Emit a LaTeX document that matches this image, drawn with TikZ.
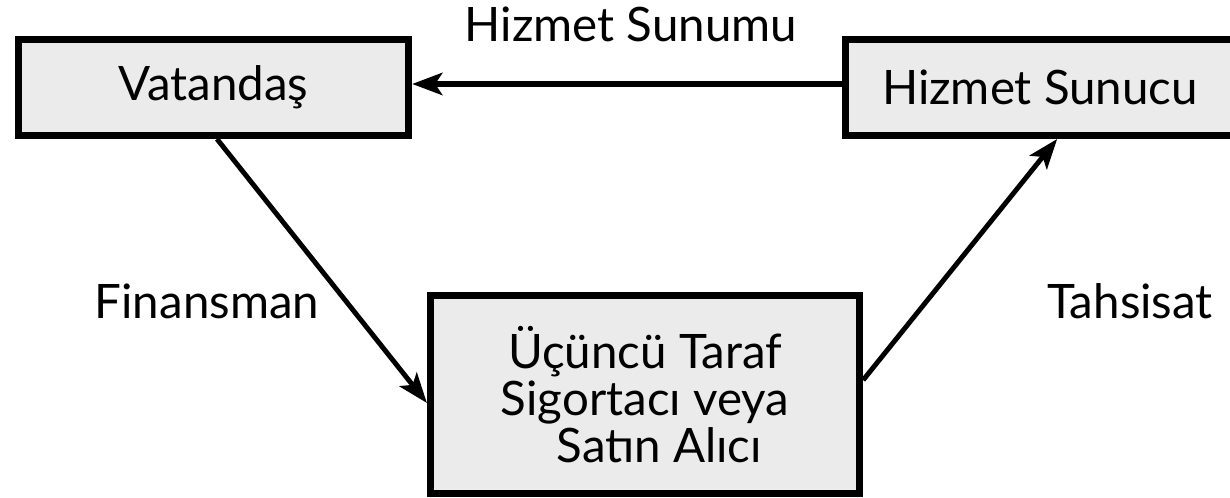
\documentclass[tikz,border=0pt]{standalone}
\usepackage{fontspec}
\setmainfont{Lato}
\usetikzlibrary{arrows.meta}

\begin{document}
\begin{tikzpicture}[x=0.01cm,y=-0.01cm,
    kutu/.style={draw,line width=2pt,fill=black!8,inner sep=0pt,align=center,font=\fontsize{13.5}{13.4}\selectfont},
    ok/.style={-{Stealth[length=0.3cm,width=0.22cm,inset=0.07cm]},line width=1.4pt},
    etiket/.style={font=\fontsize{13.5}{13.4}\selectfont}]
  \useasboundingbox (0,0) rectangle (1230,498);

  \node[kutu,minimum width=3.9cm,minimum height=0.96cm] (vat) at (213.5,87.5) {Vatanda\c{s}};
  % kutu sag kenardan tasiyor
  \node[kutu,minimum width=4.19cm,minimum height=0.96cm] (hs) at (1055,87.5) {Hizmet Sunucu\hspace*{0.3cm}};
  \node[kutu,minimum width=4.29cm,minimum height=1.98cm] (ucu) at (645,394.5)
    {Üçüncü Taraf\\Sigortacı veya\\\hspace*{0.6em}Satın Alıcı};

  \draw[ok,line width=1.8pt] ([yshift=1pt]hs.west) -- ([yshift=1pt]vat.east);
  \draw[ok] ([xshift=1pt]vat.south) -- ([yshift=-2.4pt]ucu.west);
  \draw[ok] ([yshift=4.1pt]ucu.east) -- ([xshift=0.6pt]hs.south);

  \node[etiket] (sunum) at (631,24) {Hizmet Sunumu};
  \node[etiket] (fin) at (207,301) {Finansman};
  \node[etiket] (tah) at (1130,301) {Tahsisat};
\end{tikzpicture}
\end{document}
